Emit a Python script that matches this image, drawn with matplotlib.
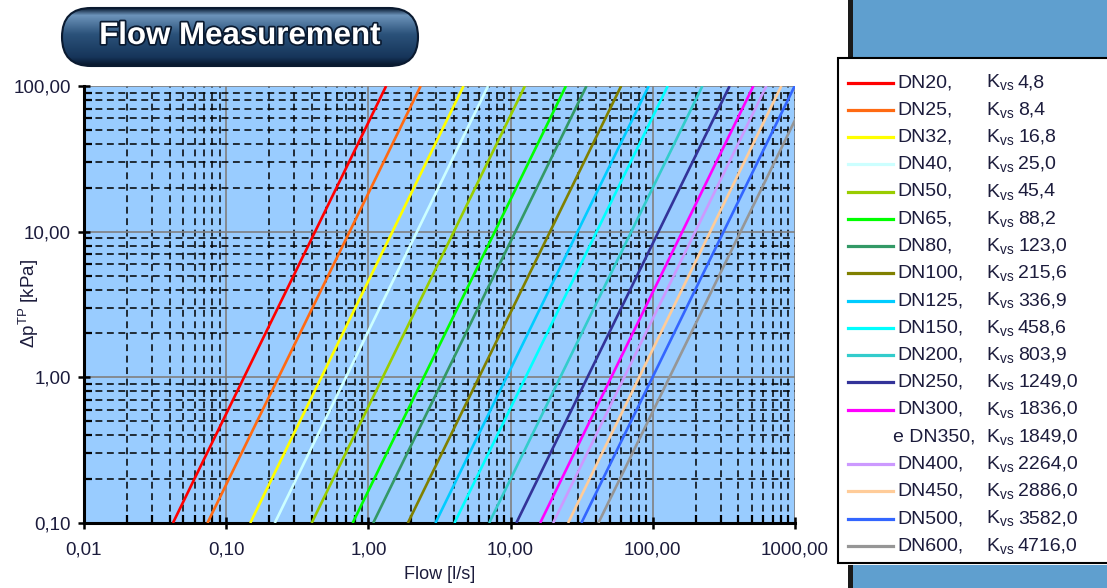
import numpy as np
import matplotlib
matplotlib.use('Agg')
import matplotlib.pyplot as plt
from matplotlib.patches import FancyBboxPatch, Rectangle, Arc
from matplotlib.colors import LinearSegmentedColormap
from matplotlib.ticker import FixedLocator, LogLocator, NullFormatter
import matplotlib.patheffects as pe

plt.rcParams['font.family'] = ['Liberation Sans', 'DejaVu Sans']
plt.rcParams['mathtext.fontset'] = 'custom'
plt.rcParams['mathtext.rm'] = 'Liberation Sans'
plt.rcParams['mathtext.it'] = 'Liberation Sans'

# valve sizes and Kvs values
sizes = ['DN20', 'DN25', 'DN32', 'DN40', 'DN50', 'DN65', 'DN80', 'DN100', 'DN125',
         'DN150', 'DN200', 'DN250', 'DN300', 'DN350', 'DN400', 'DN450', 'DN500', 'DN600']
kvs = [4.8, 8.4, 16.8, 25.0, 45.4, 88.2, 123.0, 215.6, 336.9,
       458.6, 803.9, 1249.0, 1836.0, 1849.0, 2264.0, 2886.0, 3582.0, 4716.0]
colors = ['#ff0000', '#ff6a13', '#ffff00', '#ccffff', '#99cc00', '#00ff00', '#339966',
          '#808000', '#00ccff', '#00ffff', '#33cccc', '#333399', '#ff00ff', 'none',
          '#cc99ff', '#ffcc99', '#3366ff', '#969696']

# each line: flow [l/s] at 0.1 kPa and at 100 kPa
dp_range = [0.1, 100.0]
flow_low = [0.0422, 0.0738, 0.1476, 0.2196, 0.3988, 0.7748, 1.0804, 1.8939, 2.9594,
            4.0284, 7.0615, 10.971, 16.128, 16.242, 19.887, 25.351, 31.465, 41.426]
flow_high = [1.333, 2.333, 4.667, 6.944, 12.61, 24.50, 34.17, 59.89, 93.58,
             127.4, 223.3, 346.9, 510.0, 513.6, 628.9, 801.7, 995.0, 1310.0]

x_ticks = [0.01, 0.1, 1, 10, 100, 1000]
x_labels = ['0,01', '0,10', '1,00', '10,00', '100,00', '1000,00']
y_ticks = [0.1, 1, 10, 100]
y_labels = ['0,10', '1,00', '10,00', '100,00']

txt = '#1c1c3c'
W, H = 1107, 588
fig = plt.figure(figsize=(W / 100, H / 100), dpi=100)
ax = fig.add_axes([84 / W, 1 - 523 / H, (795 - 84) / W, (523 - 86) / H])
ax.set_facecolor('#99ccff')
ax.set_xscale('log')
ax.set_yscale('log')
ax.set_xlim(0.01, 1000)
ax.set_ylim(0.1, 100)

for i in range(len(sizes)):
    ax.plot([flow_low[i], flow_high[i]], dp_range, color=colors[i], lw=1.9,
            solid_capstyle='butt', zorder=3)

ax.xaxis.set_major_locator(FixedLocator(x_ticks))
ax.yaxis.set_major_locator(FixedLocator(y_ticks))
ax.xaxis.set_minor_locator(LogLocator(base=10, subs=np.arange(2, 10)))
ax.yaxis.set_minor_locator(LogLocator(base=10, subs=np.arange(2, 10)))
ax.xaxis.set_minor_formatter(NullFormatter())
ax.yaxis.set_minor_formatter(NullFormatter())
ax.set_xticklabels(x_labels)
ax.set_yticklabels(y_labels)

ax.grid(which='minor', color='black', lw=1.1, linestyle=(0, (4.5, 3)), zorder=1)
ax.grid(which='major', color='#808080', lw=1.2, linestyle='-', zorder=2)
ax.set_axisbelow(True)

for s in ['top', 'right']:
    ax.spines[s].set_visible(False)
for s in ['left', 'bottom']:
    ax.spines[s].set_linewidth(2.2)
ax.tick_params(which='major', direction='inout', length=9, width=1.8,
               labelsize=13.5, labelcolor=txt)
ax.tick_params(axis='x', which='major', pad=9)
ax.tick_params(axis='y', which='major', pad=5)
ax.tick_params(which='minor', direction='in', length=6, width=1.6)

ax.set_xlabel('Flow [l/s]', fontsize=13, color=txt, labelpad=5)
fig.text(29 / W, 1 - 303 / H, r'$\Delta$p$^{\mathrm{TP}}$ [kPa]', rotation=90,
         ha='center', va='center', fontsize=13.5, color=txt)

# overlay in pixel coordinates for the decorations and legend
ov = fig.add_axes([0, 0, 1, 1], zorder=5)
ov.set_xlim(0, W)
ov.set_ylim(H, 0)
ov.axis('off')

# right side blue panels
ov.add_patch(Rectangle((852, 0), W - 852, 57, facecolor='#5f9fcf', edgecolor='none'))
ov.add_patch(Rectangle((848, 0), 5, 57, facecolor='#1a1a1a', edgecolor='none'))
ov.add_patch(Rectangle((852, 565), W - 852, H - 565, facecolor='#5f9fcf', edgecolor='none'))
ov.add_patch(Rectangle((848, 565), 5, H - 565, facecolor='#1a1a1a', edgecolor='none'))
ov.add_patch(Arc((806, 602), 88, 64, theta1=0, theta2=180, color='#99ccff', lw=2))

# legend box
ov.add_patch(Rectangle((838, 58), W - 838 + 10, 563 - 58, facecolor='white',
                       edgecolor='black', lw=1.5))
row0, step = 82.5, 27.25
fs = 14
for i in range(len(sizes)):
    y = row0 + i * step
    name = sizes[i] + ','
    if colors[i] == 'none':
        ov.text(893, y, 'e ' + name, fontsize=fs, va='center', color=txt)
    else:
        ov.plot([848, 893], [y, y], color=colors[i], lw=2.3)
        ov.text(897, y, name, fontsize=fs, va='center', color=txt)
    ov.text(986, y, r'K$_{\mathrm{vs}}$', fontsize=fs, va='center', color=txt)
    ov.text(1018, y, ('%.1f' % kvs[i]).replace('.', ','), fontsize=fs,
            va='center', color=txt)

# title badge
badge = FancyBboxPatch((62, 8), 356, 58, boxstyle='round,pad=0,rounding_size=29',
                       facecolor='none', edgecolor='#0a1a30', lw=1.5, zorder=2)
ov.add_patch(badge)
cmap = LinearSegmentedColormap.from_list('badge', [
    (0.0, '#0b1d35'), (0.12, '#6d94bb'), (0.45, '#2b527a'),
    (0.85, '#16355a'), (1.0, '#08162a')])
grad = np.linspace(0, 1, 100).reshape(-1, 1)
im = ov.imshow(grad, cmap=cmap, extent=(62, 418, 66, 8), aspect='auto', zorder=1)
im.set_clip_path(badge)
ov.set_xlim(0, W)
ov.set_ylim(H, 0)
ov.text(240, 36, 'Flow Measurement', fontsize=22.5, fontweight='bold', color='white',
        ha='center', va='center', zorder=3,
        path_effects=[pe.withStroke(linewidth=2.5, foreground='#0a1a30')])

fig.savefig('out.png', dpi=100)
